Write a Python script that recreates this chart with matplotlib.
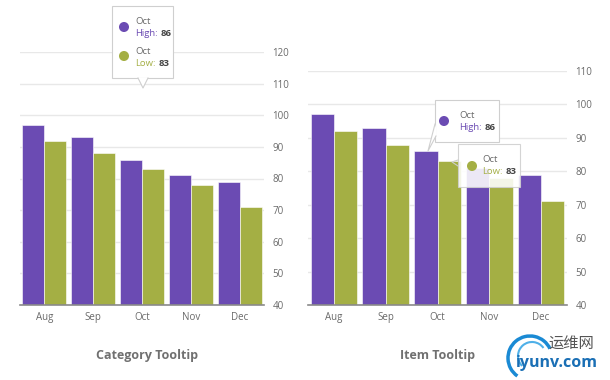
import matplotlib
matplotlib.use("Agg")
import matplotlib.pyplot as plt
import numpy as np
from matplotlib.patches import Polygon, Circle, Arc, Rectangle

months = ["Aug", "Sep", "Oct", "Nov", "Dec"]
high = [97, 93, 86, 81, 79]
low = [92, 88, 83, 78, 71]
left_ticks = [40, 50, 60, 70, 80, 90, 100, 110, 120]
right_ticks = [40, 50, 60, 70, 80, 90, 100, 110]
titles = ["Category Tooltip", "Item Tooltip"]

PURPLE = "#6b4bb3"
GREEN = "#a4af44"
GRID = "#e8e8e8"
TXT = "#6a6a6a"

plt.rcParams['font.family'] = ['Open Sans', 'DejaVu Sans']

fig = plt.figure(figsize=(6.1, 3.8), dpi=100)
W, H = 610, 380

def fx(x): return x / W
def fy(y): return 1 - y / H

def make_axes(x0, x1, ytop, ybot, ymax, ticks):
    ax = fig.add_axes([fx(x0), fy(ybot), fx(x1) - fx(x0), fy(ytop) - fy(ybot)])
    x = np.arange(len(months))
    w = 0.45
    ax.bar(x - w / 2, high, width=w, color=PURPLE, edgecolor="white", linewidth=0.4, zorder=2)
    ax.bar(x + w / 2, low, width=w, color=GREEN, edgecolor="white", linewidth=0.4, zorder=2)
    ax.set_xlim(-0.5, len(months) - 0.5)
    ax.set_ylim(40, ymax)
    ax.set_yticks(ticks)
    ax.yaxis.tick_right()
    ax.grid(axis="y", color=GRID, linewidth=1, zorder=0)
    ax.set_axisbelow(True)
    for s in ["top", "left", "right"]:
        ax.spines[s].set_visible(False)
    ax.spines["bottom"].set_color("#8a8a8a")
    ax.spines["bottom"].set_linewidth(1.2)
    ax.set_xticks(x)
    ax.set_xticklabels(months)
    ax.tick_params(axis="both", length=0, labelsize=7, colors=TXT, pad=5)
    ax.tick_params(axis="y", pad=6)
    return ax

ax1 = make_axes(20, 264, 52, 305, 120, left_ticks)
ax2 = make_axes(308, 567, 71, 305, 110, right_ticks)

# overlay in pixel coords
ov = fig.add_axes([0, 0, 1, 1], zorder=10)
ov.set_xlim(0, W)
ov.set_ylim(H, 0)
ov.axis("off")

def box(x0, y0, x1, y1, alpha=1.0):
    ov.add_patch(Rectangle((x0, y0), x1 - x0, y1 - y0, facecolor="white",
                           edgecolor="#cfcfcf", linewidth=0.8, alpha=alpha, zorder=5))

def entry(dx, dy, tx, ty, color, label, value):
    ov.add_patch(Circle((dx, dy), 4.3, color=color, zorder=7))
    ov.text(tx, ty, "Oct", fontsize=6.8, color=TXT, va="center", ha="left", zorder=7)
    t = ov.text(tx, ty + 12, label, fontsize=6.8, color=color, va="center", ha="left", zorder=7)
    ov.annotate(value, xy=(1, 0.5), xycoords=t, xytext=(2, 0), textcoords="offset points",
                fontsize=6.8, color="#444444", fontweight="bold", va="center", ha="left", zorder=7)

# left tooltip
box(112, 6, 173, 78)
ov.add_patch(Polygon([[138, 78], [148, 78], [143, 88]], closed=True, facecolor="white",
                     edgecolor="none", zorder=6))
ov.plot([138, 143, 148], [78, 88, 78], color="#cfcfcf", lw=0.8, zorder=6)
entry(124, 27, 135, 22, PURPLE, "High:", "86")
entry(124, 56, 135, 51, GREEN, "Low:", "83")

# right tooltips
box(435, 100, 499, 142)
ov.add_patch(Polygon([[436, 124], [428, 151], [436, 136]], closed=True, facecolor="white",
                     edgecolor="none", zorder=6))
ov.plot([435, 428, 436], [124, 151, 136], color="#cfcfcf", lw=0.8, zorder=6)
entry(444, 121, 459, 116, PURPLE, "High:", "86")
box(458, 144, 520, 187, alpha=0.88)
ov.plot([458, 452, 458], [160, 162, 166], color="#cfcfcf", lw=0.8, zorder=6)
entry(472, 166, 482, 160, GREEN, "Low:", "83")

# titles
ov.text(147, 355, titles[0], fontsize=9, fontweight="bold", color="#707070", ha="center", va="center")
ov.text(437, 355, titles[1], fontsize=9, fontweight="bold", color="#707070", ha="center", va="center")

# watermark
ov.add_patch(Arc((530, 358), 44, 44, theta1=-235, theta2=-25, color="#1a8ad4", lw=2.5))
ov.add_patch(Arc((532, 356), 28, 28, theta1=-225, theta2=-35, color="#4fb0e8", lw=1.5))
ov.text(548, 344, "运维网", fontsize=11, color="#555555", ha="left", va="center",
        family=["Noto Sans CJK SC", "DejaVu Sans"])
ov.text(516, 363, "iyunv.com", fontsize=11.5, color="#1a6fb5", fontweight="bold", ha="left", va="center")

fig.savefig("out.png", dpi=100, facecolor="white")
